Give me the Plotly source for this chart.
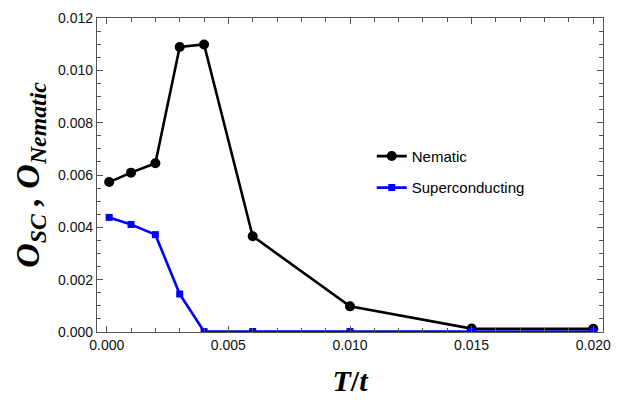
import plotly.graph_objects as go

T = [0.0001, 0.001, 0.002, 0.003, 0.004, 0.006, 0.010, 0.015, 0.020]
nematic = [0.00573, 0.00609, 0.00645, 0.01089, 0.01099, 0.00366, 0.00098, 0.00013, 0.00012]
sc = [0.00438, 0.00411, 0.00372, 0.00145, 0.00002, 0.00002, 0.00002, 0.00002, 0.00002]

x_ticks = [0.0, 0.005, 0.010, 0.015, 0.020]
y_ticks = [0.0, 0.002, 0.004, 0.006, 0.008, 0.010, 0.012]

fig = go.Figure()
fig.add_trace(go.Scatter(x=T, y=nematic, mode="lines+markers", name="Nematic",
                         legendgroup="a",
                         line=dict(color="black", width=2.6),
                         marker=dict(symbol="circle", size=10, color="black")))
fig.add_trace(go.Scatter(x=T, y=sc, mode="lines+markers", name="Superconducting",
                         legendgroup="b",
                         line=dict(color="#0000ff", width=2.6),
                         marker=dict(symbol="square", size=7, color="#0000ff")))

axis_common = dict(showgrid=False, zeroline=False, showline=True, linecolor="#555555",
                   linewidth=1.2, mirror="ticks", ticks="inside", ticklen=6, tickwidth=1,
                   tickcolor="#555555",
                   tickfont=dict(family="Liberation Sans, Arial", size=14, color="#111111"))

fig.update_xaxes(range=[-0.0004, 0.0204], tickvals=x_ticks,
                 ticktext=[f"{v:.3f}" for v in x_ticks],
                 minor=dict(dtick=0.001, ticks="inside", ticklen=4, tickcolor="#555555", showgrid=False),
                 title=dict(text="<b><i>T</i>/<i>t</i></b>",
                            font=dict(family="Liberation Serif, Times New Roman", size=30, color="black"),
                            standoff=18),
                 **axis_common)
fig.update_yaxes(range=[0, 0.012], tickvals=y_ticks,
                 ticktext=[f"{v:.3f}" for v in y_ticks],
                 minor=dict(dtick=0.0005, ticks="inside", ticklen=4, tickcolor="#555555", showgrid=False),
                 title=dict(text="<b><i>O<sub>SC</sub> , O<sub>Nematic</sub></i></b>",
                            font=dict(family="Liberation Serif, Times New Roman", size=34, color="black"),
                            standoff=8),
                 **axis_common)

fig.update_layout(
    width=621, height=404,
    margin=dict(l=97, r=10, t=14, b=72),
    paper_bgcolor="white", plot_bgcolor="white",
    legend=dict(x=0.543, y=0.612, xanchor="left", yanchor="top",
                bgcolor="rgba(0,0,0,0)", tracegroupgap=9,
                font=dict(family="Liberation Sans, Arial", size=15, color="black")),
    showlegend=True,
)

fig.write_html("out.html")
